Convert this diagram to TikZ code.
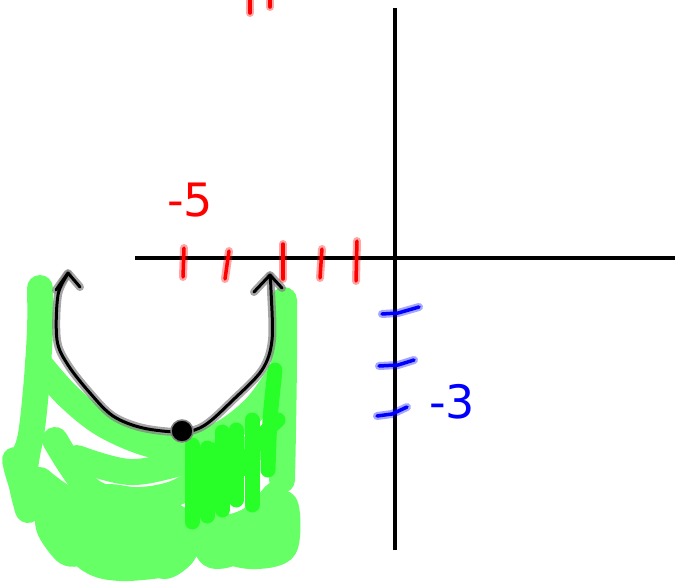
\documentclass[tikz,border=0pt]{standalone}
\usepackage{fontspec}
\setsansfont{DejaVu Sans}
\begin{document}
\begin{tikzpicture}[x=1pt,y=-1pt,
  axisline/.style={line width=4.5pt,black},
  redmark/.style={draw=red,line width=3.5pt,line cap=round,preaction={draw=red,opacity=0.35,line width=8pt,line cap=round}},
  bluemark/.style={draw=blue,line width=3.5pt,line cap=round,preaction={draw=blue,opacity=0.35,line width=8pt,line cap=round}},
  hl/.style={draw=lightgrn,line width=26pt,line cap=round,line join=round},
  hb/.style={draw=brightgrn,line width=15pt,line cap=round,line join=round},
  curvehalo/.style={draw=gray,line width=8pt,line cap=round,line join=round,opacity=0.7},
  curveline/.style={draw=black,line width=3pt,line cap=round,line join=round},
  lbl/.style={font=\sffamily\fontsize{46}{46}\selectfont,inner sep=0pt}
]
\definecolor{lightgrn}{RGB}{102,255,102}
\definecolor{brightgrn}{RGB}{40,255,40}
\useasboundingbox (0,0) rectangle (675,582);
% green scribble
\fill[lightgrn] (40,500) -- (100,505) -- (180,520) -- (280,510) -- (282,550) -- (200,555) -- (150,565) -- (100,565) -- (60,545) -- cycle;
\draw[hl] plot[smooth,tension=0.6] coordinates {(40,288) (40,330) (36,390) (30,440) (20,470) (28,510)};
\draw[hl] plot[smooth,tension=0.6] coordinates {(38,362) (70,398) (110,428) (165,447) (215,437) (255,408) (282,370)};
\draw[hl] plot[smooth,tension=0.6] coordinates {(77,458) (130,472) (185,462) (230,452) (277,445)};
\draw[hl] plot[smooth,tension=0.6] coordinates {(284,300) (284,360) (283,430) (282,480)};
\draw[hl] plot[smooth,tension=0.5] coordinates {(30,440) (25,480) (45,505) (50,530) (68,553) (85,548) (95,520) (100,500) (108,525) (112,565) (128,560) (140,530) (148,505) (158,525) (162,565) (182,555) (196,528) (212,555) (240,548) (262,510) (285,505) (284,548) (250,556) (212,545) (180,520) (150,505) (110,497) (70,500) (40,480)};
\draw[hl] plot[smooth,tension=0.6] coordinates {(15,460) (25,490) (50,510) (80,520)};
\draw[hl] plot[smooth,tension=0.6] coordinates {(55,440) (90,490) (130,500) (170,495) (200,480)};
\draw[hl] plot[smooth,tension=0.6] coordinates {(120,510) (125,545) (135,560)};
\draw[hl] plot[smooth,tension=0.6] coordinates {(200,490) (220,525) (250,520) (275,495)};
\draw[hl] plot[smooth,tension=0.6] coordinates {(60,530) (90,560) (120,568) (160,565)};
% brighter strokes
\draw[hb] (192,445) -- (192,522);
\draw[hb] (207,448) -- (207,516);
\draw[hb] (222,432) -- (222,510);
\draw[hb] (236,430) -- (236,500);
\draw[hb] (252,420) -- (252,505);
\draw[hb] plot[smooth] coordinates {(268,470) (270,420) (275,370)};
\draw[hb] plot[smooth] coordinates {(195,460) (215,450) (240,470) (258,440) (278,420)};
% black curve
\draw[curvehalo] plot[smooth,tension=0.55] coordinates {(68,274) (58,295) (57,340) (68,365) (90,393) (113,416) (143,428) (182,432) (205,425) (233,400) (262,370) (272,340) (271,290) (270,276)};
\draw[curvehalo] (56,290) -- (68,273) -- (80,287);
\draw[curvehalo] (254,292) -- (270,275) -- (282,288);
\draw[curveline] plot[smooth,tension=0.55] coordinates {(68,274) (58,295) (57,340) (68,365) (90,393) (113,416) (143,428) (182,432) (205,425) (233,400) (262,370) (272,340) (271,290) (270,276)};
\draw[curveline] (56,290) -- (68,273) -- (80,287);
\draw[curveline] (254,292) -- (270,275) -- (282,288);
\node[circle,fill=black,draw=gray,line width=1.5pt,minimum size=22pt,inner sep=0pt] (dot) at (182,431) {};
% axes
\coordinate (xl) at (135,258);
\coordinate (xr) at (675,258);
\coordinate (yt) at (395,8);
\coordinate (yb) at (395,550);
\draw[axisline] (xl) -- (xr);
\draw[axisline] (yt) -- (yb);
% red ticks
\draw[redmark] (184,248) -- (183,277);
\draw[redmark] (229,251) -- (225,279);
\draw[redmark] (283,244) -- (283,279);
\draw[redmark] (322,249) -- (320,278);
\draw[redmark] (357,241) -- (356,281);
\draw[redmark] (250,-5) -- (250,13);
\draw[redmark] (270,-5) -- (270,7);
\node[lbl,text=red] (m5) at (190,200) {-5};
% blue ticks
\draw[bluemark] (382,314) -- (398,313) -- (419,307);
\draw[bluemark] (379,366) -- (398,365) -- (414,360);
\draw[bluemark] (377,416) -- (392,414) -- (407,407);
\node[lbl,text=blue] (m3) at (452,402) {-3};
\end{tikzpicture}
\end{document}
